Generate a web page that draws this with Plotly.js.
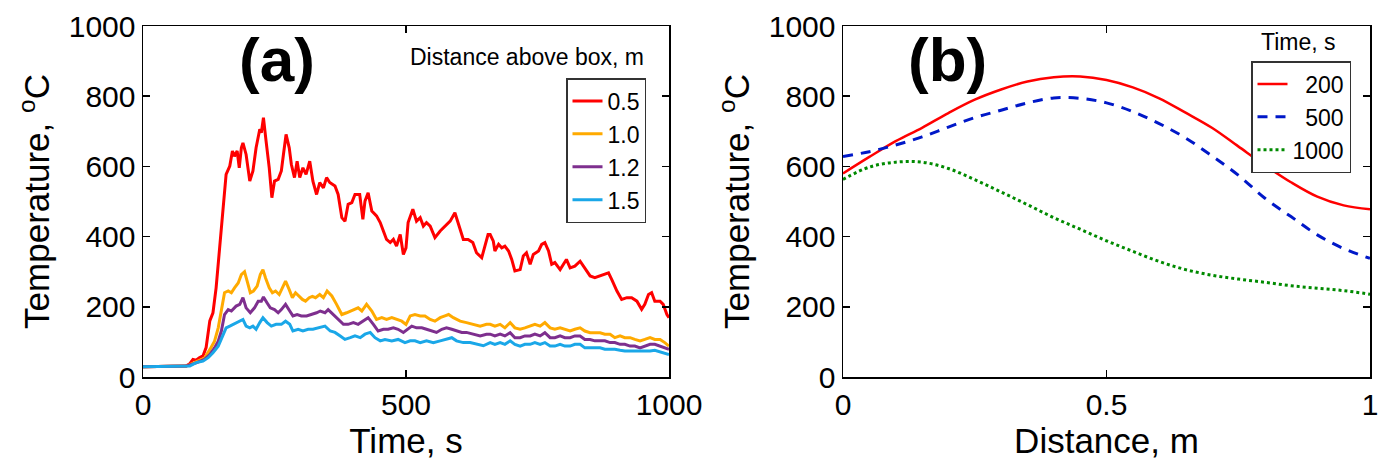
<!DOCTYPE html>
<html>
<head>
<meta charset="utf-8">
<script src="https://cdn.plot.ly/plotly-3.0.1.min.js"></script>
<style>html,body{margin:0;padding:0;background:#fff;}#chart{width:1385px;height:468px;}</style>
</head>
<body>
<div id="chart"></div>
<script>
// ---------- Panel (a): temperature vs time at heights above the box ----------
const seriesNamesA = ["0.5", "1.0", "1.2", "1.5"];

const timeRed = [0,30,60,82,89,95,101,107,114,120,127,133,139,147,152,158,165,170,174,179,183,187,190,196,203,209,215,222,225,229,234,240,245,250,257,263,267,272,278,282,288,293,298,304,310,317,323,330,336,343,349,355,365,371,378,384,390,397,403,412,418,422,428,435,444,451,457,463,470,476,482,489,495,500,504,513,520,527,533,539,546,555,565,574,584,593,599,609,618,627,634,644,650,656,660,666,669,676,682,688,695,701,707,717,723,729,736,742,752,758,764,771,777,783,793,799,805,812,821,831,840,850,859,869,878,885,891,901,910,920,929,939,948,954,961,967,973,983,989,996,1000];
const tempRed = [29,30,30,31,38,50,48,55,60,84,160,183,254,388,492,577,601,644,629,644,596,653,667,634,558,587,653,706,696,739,672,596,511,558,563,587,634,691,653,606,568,615,568,596,577,615,558,520,554,539,568,554,544,520,454,444,492,497,520,520,449,501,525,473,459,440,416,392,383,392,373,406,349,368,440,478,444,454,430,440,430,397,416,430,444,468,440,392,392,383,354,340,373,406,406,387,359,378,368,373,359,335,302,306,345,354,321,349,359,378,383,359,321,326,306,321,335,311,316,330,311,288,283,288,292,297,278,245,221,226,226,216,193,207,235,240,216,216,207,178,169];

const timeOrange = [0,30,60,82,89,101,117,127,136,143,149,155,162,168,174,181,187,193,198,204,210,217,223,228,233,240,246,252,259,265,271,278,284,290,297,303,309,316,322,328,336,343,350,359,368,378,387,400,409,416,425,435,444,454,463,473,482,492,500,508,517,527,536,546,555,565,574,581,590,603,615,628,641,653,660,669,679,688,698,707,717,726,736,745,755,764,774,783,793,802,812,821,831,840,850,859,869,878,888,897,907,916,926,935,945,954,964,973,983,992,1000];
const tempOrange = [29,30,30,31,35,44,54,78,102,140,188,240,245,240,254,268,292,300,273,240,245,259,292,306,282,254,240,245,235,254,273,249,226,240,230,221,216,226,230,226,235,226,245,231,207,178,183,192,197,188,207,188,164,169,164,169,164,159,150,174,178,174,174,164,159,169,174,178,169,159,155,150,145,150,150,145,150,140,155,140,136,140,145,150,145,155,140,136,140,136,131,136,140,131,126,126,126,122,122,112,117,112,112,107,103,107,112,107,107,98,88];

const timePurple = [0,30,60,82,101,117,127,136,143,149,155,162,168,177,184,190,196,204,212,219,225,229,236,242,250,257,263,271,279,285,293,301,311,320,330,337,346,352,362,371,381,390,400,409,419,428,438,447,457,466,476,485,495,503,511,520,530,539,549,558,568,577,587,596,606,615,628,641,653,660,669,679,688,698,707,717,726,736,745,755,764,774,783,793,802,812,821,831,840,850,859,869,878,888,897,907,916,926,935,945,954,964,973,983,992,1000];
const tempPurple = [29,30,30,31,40,50,64,83,102,131,178,192,188,202,207,226,197,183,197,216,216,228,211,197,192,183,192,207,188,174,178,174,174,178,183,188,183,192,178,164,150,150,155,150,159,169,150,131,136,136,140,136,127,136,145,140,140,136,131,127,136,140,136,131,127,127,122,117,122,122,117,122,117,126,112,112,117,117,122,117,126,112,112,117,112,112,117,117,107,107,103,103,103,98,98,93,93,88,88,83,88,93,93,88,83,79];

const timeBlue = [0,30,60,82,89,101,114,124,133,143,152,158,165,171,177,184,190,196,203,209,215,222,228,236,244,253,263,271,279,285,295,304,314,323,333,337,346,356,365,375,384,394,403,413,422,432,441,451,460,473,485,498,508,517,527,539,552,565,577,587,596,609,622,634,647,660,669,679,688,698,707,717,726,736,745,755,764,774,783,793,802,812,821,831,840,850,859,869,878,888,897,907,916,926,935,945,954,964,973,983,992,1000];
const tempBlue = [29,30,30,31,31,41,45,55,69,88,117,140,145,150,155,159,164,145,140,145,136,155,169,155,145,150,150,159,150,131,136,131,136,136,140,141,145,131,127,117,107,112,117,112,122,127,112,103,107,103,107,98,103,103,98,103,98,103,107,112,103,98,98,93,89,98,93,98,93,103,93,88,93,93,98,93,98,88,88,93,88,88,93,93,83,83,83,83,79,79,79,76,74,74,74,72,74,74,76,72,69,64];

// ---------- Panel (b): temperature vs distance at several times ----------
const seriesNamesB = ["200", "500", "1000"];
const distance = [0,0.05,0.1,0.15,0.2,0.25,0.3,0.35,0.4,0.45,0.5,0.55,0.6,0.65,0.7,0.75,0.8,0.85,0.9,0.95,1.0];
const temp200  = [580,627,672,710,752,790,819,842,854,856,846,825,794,753,710,657,604,555,514,489,478];
const temp500  = [628,642,661,684,712,739,760,781,795,794,781,756,722,681,630,575,510,457,405,366,338];
const temp1000 = [563,598,612,612,594,562,527,491,454,421,388,358,329,306,290,279,270,260,253,246,236];

// ---------- Tick labels ----------
const tickValsTime = [0, 500, 1000];
const tickTextTime = ["0", "500", "1000"];
const tickValsDist = [0, 0.5, 1];
const tickTextDist = ["0", "0.5", "1"];
const tickValsTemp = [0, 200, 400, 600, 800, 1000];
const tickTextTemp = ["0", "200", "400", "600", "800", "1000"];

const FONT = "Arial, 'Liberation Sans', Helvetica, sans-serif";
const colorsA = ["#ff0000", "#ffaa00", "#7e2f8e", "#1aa7e8"];
const colorsB = ["#ff0000", "#0018c8", "#008a00"];
const dashB = ["solid", "10px,8px", "dot"];

const traces = [];
const xsA = [timeRed, timeOrange, timePurple, timeBlue];
const ysA = [tempRed, tempOrange, tempPurple, tempBlue];
for (let i = 0; i < 4; i++) {
  traces.push({
    x: xsA[i], y: ysA[i], type: "scatter", mode: "lines",
    name: seriesNamesA[i], xaxis: "x", yaxis: "y", legend: "legend",
    line: {color: colorsA[i], width: 3}
  });
}
// draw in order so red is on top like reference? reference: cyan under others; keep ordering red first in legend
const ysB = [temp200, temp500, temp1000];
const labelsB = ["\u2007200", "\u2007500", "1000"];
for (let i = 0; i < 3; i++) {
  traces.push({
    x: distance, y: ysB[i], type: "scatter", mode: "lines",
    name: labelsB[i], xaxis: "x2", yaxis: "y2", legend: "legend2",
    line: {color: colorsB[i], width: i === 0 ? 2.5 : 3, dash: dashB[i], shape: "spline", smoothing: 1}
  });
}

const W = 1385, H = 468;
const yDom = [(H - 377) / H, (H - 26) / H];

function axisBase() {
  return {
    showline: true, linecolor: "#000", linewidth: 1.5, mirror: "ticks",
    ticks: "inside", ticklen: 7, tickwidth: 1.5, tickcolor: "#000",
    showgrid: false, zeroline: false, automargin: false,
    tickfont: {family: FONT, size: 30, color: "#000"},
    tickmode: "array"
  };
}

const xa = Object.assign(axisBase(), {
  domain: [143 / W, 669 / W], range: [0, 1000], anchor: "y",
  tickvals: tickValsTime, ticktext: tickTextTime,
  title: {text: "Time, s", font: {family: FONT, size: 35, color: "#000"}, standoff: 6}
});
const ya = Object.assign(axisBase(), {
  domain: yDom, range: [0, 1000], anchor: "x",
  tickvals: tickValsTemp, ticktext: tickTextTemp,
  title: {text: "Temperature, <sup>o</sup>C", font: {family: FONT, size: 35, color: "#000"}, standoff: 8}
});
const xb = Object.assign(axisBase(), {
  domain: [843 / W, 1370 / W], range: [0, 1], anchor: "y2",
  tickvals: tickValsDist, ticktext: tickTextDist,
  title: {text: "Distance, m", font: {family: FONT, size: 35, color: "#000"}, standoff: 6}
});
const yb = Object.assign(axisBase(), {
  domain: yDom, range: [0, 1000], anchor: "x2",
  tickvals: tickValsTemp, ticktext: tickTextTemp,
  title: {text: "Temperature, <sup>o</sup>C", font: {family: FONT, size: 35, color: "#000"}, standoff: 8}
});

const layout = {
  width: W, height: H,
  margin: {l: 0, r: 0, t: 0, b: 0},
  paper_bgcolor: "#fff", plot_bgcolor: "#fff",
  font: {family: FONT, color: "#000"},
  xaxis: xa, yaxis: ya, xaxis2: xb, yaxis2: yb,
  showlegend: true,
  legend: {
    x: 566 / W, y: (H - 78) / H, xanchor: "left", yanchor: "top",
    bgcolor: "#fff", bordercolor: "#333", borderwidth: 1.5,
    font: {family: FONT, size: 23, color: "#000"}, itemwidth: 30, tracegroupgap: 0
  },
  legend2: {
    x: 1251 / W, y: (H - 61) / H, xanchor: "left", yanchor: "top",
    bgcolor: "#fff", bordercolor: "#333", borderwidth: 1.5,
    font: {family: FONT, size: 23, color: "#000"}, itemwidth: 30, tracegroupgap: 0
  },
  annotations: [
    {text: "<b>(a)</b>", xref: "paper", yref: "paper", x: 277 / W, y: (H - 60) / H,
     xanchor: "center", yanchor: "middle", showarrow: false,
     font: {family: FONT, size: 62, color: "#000"}},
    {text: "<b>(b)</b>", xref: "paper", yref: "paper", x: 948 / W, y: (H - 60) / H,
     xanchor: "center", yanchor: "middle", showarrow: false,
     font: {family: FONT, size: 62, color: "#000"}},
    {text: "Distance above box, m", xref: "paper", yref: "paper", x: 527 / W, y: (H - 57) / H,
     xanchor: "center", yanchor: "middle", showarrow: false,
     font: {family: FONT, size: 23, color: "#000"}},
    {text: "Time, s", xref: "paper", yref: "paper", x: 1298 / W, y: (H - 42) / H,
     xanchor: "center", yanchor: "middle", showarrow: false,
     font: {family: FONT, size: 23, color: "#000"}}
  ]
};

Plotly.newPlot("chart", traces, layout, {displayModeBar: false, staticPlot: true});
</script>
</body>
</html>
